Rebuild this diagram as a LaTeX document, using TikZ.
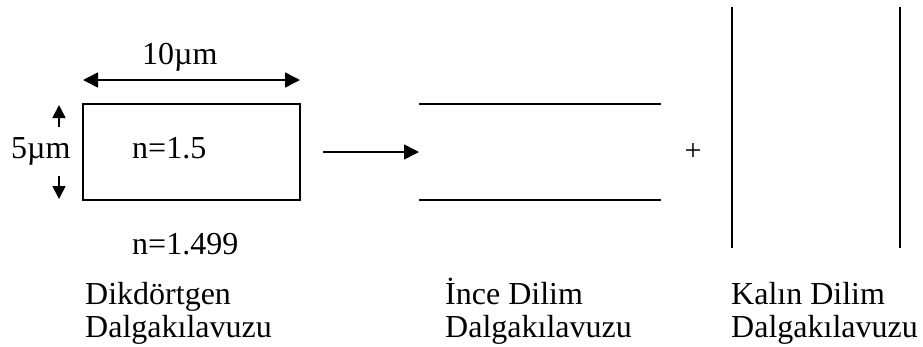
\documentclass[tikz,border=0pt]{standalone}
\usepackage{fontspec}
\setmainfont{Liberation Serif}
\usetikzlibrary{arrows.meta}
\begin{document}
\begin{tikzpicture}[x=1pt,y=-1pt,
  lbl/.style={inner sep=0pt,anchor=base west,font=\fontsize{32}{33}\selectfont},
  wall/.style={line width=2pt},
  dimarr/.style={line width=1.6pt,-{Triangle[length=15pt,width=15pt]}},
  dimarrs/.style={line width=1.6pt,{Triangle[length=15pt,width=15pt]}-{Triangle[length=15pt,width=15pt]}}]
\useasboundingbox (0,0) rectangle (923,346);
% rectangular waveguide
\node[draw,line width=1.8pt,minimum width=217pt,minimum height=96pt,inner sep=0pt] (rect) at (191.5,152) {};
\node[lbl] (n1) at (132,158) {n=1.5};
\node[lbl] (n2) at (132,254) {n=1.499};
% width dimension
\coordinate (wl) at (83,80);
\coordinate (wr) at (300,80);
\draw[dimarrs] (wl) -- (wr);
\node[lbl] (w) at (142,64) {10µm};
% height dimension
\coordinate (hu0) at (59,127);
\coordinate (hu1) at (59,105);
\coordinate (hd0) at (59,176);
\coordinate (hd1) at (59,199);
\draw[line width=1.6pt,-{Triangle[length=13pt,width=13pt]}] (hu0) -- (hu1);
\draw[line width=1.6pt,-{Triangle[length=13pt,width=13pt]}] (hd0) -- (hd1);
\node[lbl] (h) at (11,158) {5µm};
% arrow
\coordinate (a0) at (323,152);
\coordinate (a1) at (419,152);
\draw[dimarr] (a0) -- (a1);
% thin slab
\coordinate (t1) at (419,104);
\coordinate (t2) at (661,104);
\coordinate (t3) at (419,200);
\coordinate (t4) at (661,200);
\draw[wall] (t1) -- (t2);
\draw[wall] (t3) -- (t4);
\node[inner sep=0pt,font=\fontsize{30}{30}\selectfont] (plus) at (693,152) {+};
% thick slab
\coordinate (k1) at (732,7);
\coordinate (k2) at (732,248);
\coordinate (k3) at (900,7);
\coordinate (k4) at (900,248);
\draw[wall] (k1) -- (k2);
\draw[wall] (k3) -- (k4);
% labels
\node[lbl] (l1a) at (85,304) {Dikdörtgen};
\node[lbl] (l1b) at (85,337) {Dalgakılavuzu};
\node[lbl] (l2a) at (445,304) {İnce Dilim};
\node[lbl] (l2b) at (445,337) {Dalgakılavuzu};
\node[lbl] (l3a) at (731,304) {Kalın Dilim};
\node[lbl] (l3b) at (731,337) {Dalgakılavuzu};
\end{tikzpicture}
\end{document}
